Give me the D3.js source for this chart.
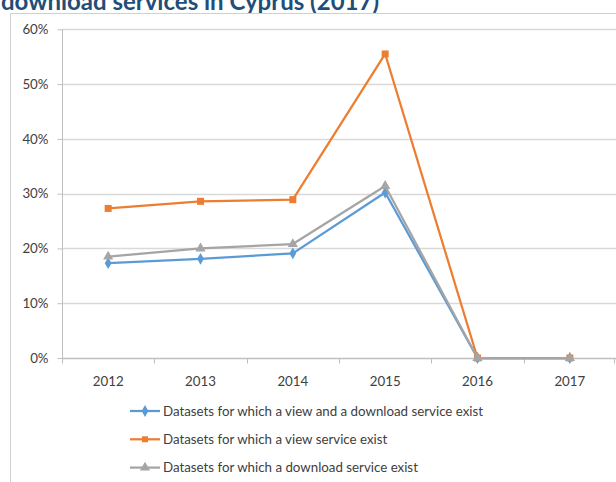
<!DOCTYPE html>
<html><head><meta charset="utf-8">
<script src="https://cdn.jsdelivr.net/npm/d3@7"></script>
<style>
html,body{margin:0;padding:0;background:#fff;}
svg{display:block;}
text{font-family:Lato,"Open Sans",sans-serif;}
</style></head>
<body>
<script>
const years = ["2012","2013","2014","2015","2016","2017"];
const viewAndDownload = [0.173, 0.181, 0.191, 0.302, 0, 0];
const viewOnly = [0.273, 0.286, 0.289, 0.555, 0, 0];
const downloadOnly = [0.185, 0.200, 0.208, 0.314, 0, 0];
const yTicks = [0, 0.1, 0.2, 0.3, 0.4, 0.5, 0.6];
const seriesNames = [
  "Datasets for which a view and a download service exist",
  "Datasets for which a view service exist",
  "Datasets for which a download service exist"
];
const titleText = "download services in Cyprus (2017)";

const W = 616, H = 482;
const svg = d3.select("body").append("svg").attr("width", W).attr("height", H);

// title (cropped at the top, as in the reference)
svg.append("text").attr("x", 1).attr("y", 9.5)
  .attr("font-size", 24).attr("font-weight", "bold").attr("fill", "#1F4E79")
  .text(titleText);

// chart frame
svg.append("path").attr("d", `M10.5,${H} V13.5 H${W}`)
  .attr("fill", "none").attr("stroke", "#D0D0D0").attr("stroke-width", 1);

const x = d3.scaleBand().domain(years).range([62, 616]);
const y = d3.scaleLinear().domain([0, 0.6]).range([358, 29.3]);

// gridlines
svg.append("g").selectAll("line").data(yTicks.filter(d => d > 0)).join("line")
  .attr("x1", 62).attr("x2", 616)
  .attr("y1", d => Math.round(y(d)) + 0.5).attr("y2", d => Math.round(y(d)) + 0.5)
  .attr("stroke", "#D9D9D9").attr("stroke-width", 1.5);

// y axis
const yAxis = svg.append("g").attr("transform", "translate(62.5,0)")
  .call(d3.axisLeft(y).tickValues(yTicks).tickFormat(d3.format(".0%")).tickSize(5).tickPadding(9));
yAxis.select(".domain").attr("stroke", "#BFBFBF").attr("d", `M0,${y(0.6)}V${y(0)}`);
yAxis.selectAll(".tick line").attr("stroke", "#BFBFBF");
yAxis.selectAll(".tick text").attr("font-size", 13.3).attr("fill", "#404040")
  .attr("font-family", "Lato, sans-serif");

// x axis
const xAxis = svg.append("g").attr("transform", `translate(0,${Math.round(y(0)) + 0.5})`)
  .call(d3.axisBottom(x).tickSize(0).tickPadding(18));
xAxis.select(".domain").attr("stroke", "#BFBFBF").attr("stroke-width", 1.5).attr("d", "M62,0H616");
xAxis.selectAll(".tick text").attr("font-size", 13.3).attr("fill", "#404040")
  .attr("font-family", "Lato, sans-serif");
// category boundary ticks
const bounds = years.map(d => x(d)).concat([x.range()[1] - 2.5]);
xAxis.append("g").selectAll("line").data(bounds).join("line")
  .attr("x1", d => Math.round(d) + 0.5).attr("x2", d => Math.round(d) + 0.5)
  .attr("y1", 0).attr("y2", 5).attr("stroke", "#BFBFBF");

const cx = d => x(d) + x.bandwidth() / 2;
const line = d3.line().x(d => cx(d.year)).y(d => y(d.v));

const series = [
  {name: seriesNames[0], values: viewAndDownload, color: "#5B9BD5", marker: "diamond"},
  {name: seriesNames[1], values: viewOnly, color: "#ED7D31", marker: "square"},
  {name: seriesNames[2], values: downloadOnly, color: "#A5A5A5", marker: "triangle"}
];

function markerPath(type) {
  if (type === "diamond") return d3.symbol(d3.symbolDiamond, 40)();
  if (type === "square") return "M-3.5,-3.5H3.5V3.5H-3.5Z";
  return d3.symbol(d3.symbolTriangle, 45)();
}

series.forEach(s => {
  const pts = years.map((yr, i) => ({year: yr, v: s.values[i]}));
  const g = svg.append("g");
  g.append("path").attr("d", line(pts)).attr("fill", "none")
    .attr("stroke", s.color).attr("stroke-width", 2.25).attr("stroke-linejoin", "round");
  g.selectAll("path.m").data(pts).join("path").attr("class", "m")
    .attr("transform", d => `translate(${cx(d.year)},${y(d.v)})`)
    .attr("d", markerPath(s.marker)).attr("fill", s.color);
});

// legend
const lg = svg.append("g");
series.forEach((s, i) => {
  const ly = 411 + i * 28.3;
  lg.append("line").attr("x1", 130).attr("x2", 160).attr("y1", ly).attr("y2", ly)
    .attr("stroke", s.color).attr("stroke-width", 2.25);
  lg.append("path").attr("transform", `translate(145,${ly})`)
    .attr("d", s.marker === "square" ? "M-3,-3H3V3H-3Z" : markerPath(s.marker))
    .attr("fill", s.color);
  lg.append("text").attr("x", 163).attr("y", ly).attr("dy", "0.35em")
    .attr("font-size", 13.3).attr("fill", "#404040").text(s.name);
});
</script>
</body></html>
